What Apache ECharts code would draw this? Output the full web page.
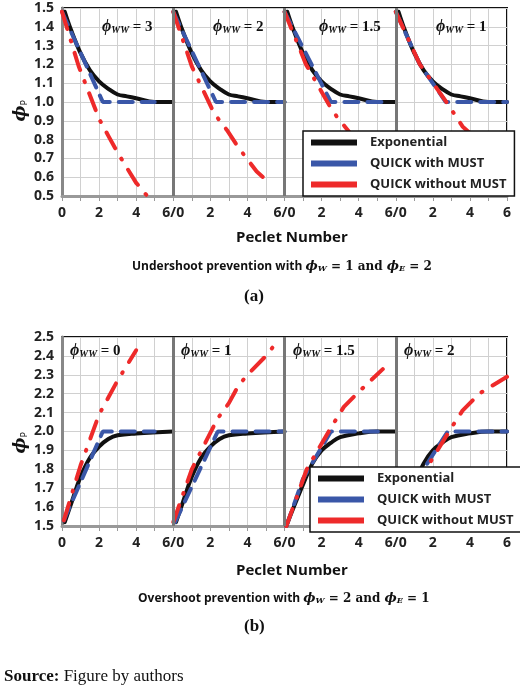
<!DOCTYPE html>
<html><head><meta charset="utf-8">
<script src="https://cdn.jsdelivr.net/npm/echarts@6/dist/echarts.min.js"></script>
<style>html,body{margin:0;padding:0;background:#fff}#c{width:520px;height:689px}</style>
</head><body><div id="c"></div>
<script>
// ---- data (local x per panel, 0..6) ----
const xTicks = [0,2,4,'6/0',2,4,'6/0',2,4,'6/0',2,4,6];
const topLabels = ['3','2','1.5','1'];
const botLabels = ['0','1','1.5','2'];
const topExp = [[0.15,1.48],[0.5,1.38],[1,1.26],[1.5,1.17],[2,1.11],[2.5,1.07],[3,1.04],[3.5,1.03],[4,1.02],[5,1.0],[6,1.0]];
const topMust = [
 [[0,1.48],[2.2,1.0],[5,1.0]],
 [[0,1.48],[2.3,1.0],[6,1.0]],
 [[0,1.48],[2.5,1.0],[5.3,1.0]],
 [[0,1.48],[1.3,1.2],[2.7,1.0],[6,1.0]]
];
const topNoMust = [
 [[0,1.48],[0.9,1.19],[2,0.91],[2.5,0.82],[3,0.73],[4,0.57],[4.6,0.5]],
 [[0,1.48],[1,1.19],[2.2,0.94],[2.9,0.85],[3.5,0.76],[4.5,0.63],[5.3,0.56]],
 [[0,1.48],[1.16,1.2],[2.6,0.95],[3.25,0.87],[3.9,0.79],[5.3,0.67]],
 [[0,1.48],[1.3,1.2],[2.8,0.99],[3.6,0.87],[4.5,0.79],[6,0.7]]
];
const botExpA = [[0.15,1.52],[0.5,1.62],[1,1.76],[1.5,1.86],[2,1.92],[2.5,1.96],[3,1.98],[4,1.99],[6,2.0]];
const botExpB = [[0.1,1.5],[0.5,1.6],[1,1.72],[1.5,1.83],[2,1.9],[2.5,1.94],[3,1.97],[4,1.99],[5,2.0],[6,2.0]];
const botMust = [
 [[0.1,1.53],[2.2,2.0],[5,2.0]],
 [[0.1,1.52],[2.4,2.0],[6,2.0]],
 [[0.1,1.5],[1,1.75],[2.5,2.0],[5.3,2.0]],
 [[0.1,1.5],[1.5,1.8],[2.8,2.0],[6,2.0]]
];
const botNoMust = [
 [[0.1,1.53],[1,1.82],[2,2.09],[2.5,2.18],[3,2.27],[4,2.43]],
 [[0,1.52],[1,1.8],[2.4,2.07],[3,2.15],[3.5,2.24],[4,2.3],[5,2.4],[5.4,2.45]],
 [[0.1,1.5],[1.2,1.8],[2.5,2.02],[3.2,2.13],[3.9,2.2],[5.3,2.33]],
 [[0.1,1.5],[1.5,1.78],[3,2.02],[3.6,2.11],[4.5,2.2],[6,2.29]]
];
// ---- build ----
const BLACK='#111', BLUE='#3a57a8', RED='#ee2a2a';
const shift=(arr,p)=>arr.map(d=>[d[0]+6*p,d[1]]);
const series=[];
function add(gi,name,data,color,type,smooth){
  series.push({name,type:'line',xAxisIndex:gi,yAxisIndex:gi,data,smooth,showSymbol:false,symbol:'none',
    lineStyle:{color,width:4,type,cap:'round'},itemStyle:{color},z:type==='solid'?2:3,clip:true});
}
for(let p=0;p<4;p++){
  add(0,'Exponential',shift(topExp,p),BLACK,'solid',0.4);
  add(0,'QUICK with MUST',shift(topMust[p],p),BLUE,[14,9],false);
  add(0,'QUICK without MUST',shift(topNoMust[p],p),RED,[18,12,1,12],false);
  add(1,'Exponential',shift(p<2?botExpA:botExpB,p),BLACK,'solid',0.4);
  add(1,'QUICK with MUST',shift(botMust[p],p),BLUE,[14,9],false);
  add(1,'QUICK without MUST',shift(botNoMust[p],p),RED,[18,12,1,12],false);
}
[0,1].forEach(gi=>series.push({type:'line',xAxisIndex:gi,yAxisIndex:gi,data:[],silent:true,
  markLine:{symbol:'none',silent:true,label:{show:false},lineStyle:{color:'#777',width:3,type:'solid'},
  data:[{xAxis:6},{xAxis:12},{xAxis:18}]},z:1}));
const xA=gi=>({type:'value',gridIndex:gi,min:0,max:24,interval:1,
  axisLine:{show:true,lineStyle:{color:'#999',width:3}},
  axisTick:{show:true,lineStyle:{color:'#999'}},
  splitLine:{show:true,lineStyle:{color:'#d0d0d0'}},
  axisLabel:{fontFamily:'Open Sans',fontWeight:'bold',fontSize:14,color:'#222',margin:10,
    formatter:v=>v%2?'':String(xTicks[v/2])}});
const yA=(gi,min,max)=>({type:'value',gridIndex:gi,min,max,interval:0.1,
  axisLine:{show:true,lineStyle:{color:'#888',width:3}},axisTick:{show:false},
  splitLine:{show:true,lineStyle:{color:'#d0d0d0'}},
  axisLabel:{fontFamily:'Open Sans',fontWeight:'bold',fontSize:14,color:'#222',margin:8,formatter:v=>v.toFixed(1)}});
const txt=(x,y,t,o={})=>({type:'text',left:x,top:y,style:Object.assign({text:t,fontFamily:'Open Sans',fontWeight:'bold',fontSize:13,fill:'#111'},o)});
const phiLab=(x,y,v)=>({type:'text',left:x,top:y,z:10,style:{text:'{a|ϕ}{s|WW}{b| = '+v+'}',
  rich:{a:{fontFamily:'Liberation Serif',fontStyle:'italic',fontWeight:'bold',fontSize:16,fill:'#111'},
        b:{fontFamily:'Liberation Serif',fontWeight:'bold',fontSize:15,fill:'#111'},
        s:{fontFamily:'Liberation Serif',fontStyle:'italic',fontWeight:'bold',fontSize:10,fill:'#111',padding:[6,0,0,0]}}}});
const graphic=[];
const px=[62,173,285,396];
topLabels.forEach((v,i)=>graphic.push(phiLab(px[i]+(i==2?34:40),19,v)));
botLabels.forEach((v,i)=>graphic.push(phiLab(px[i]+8,343,v)));
[[12,100],[12,432]].forEach(([x,y])=>graphic.push({type:'text',left:x,top:y,rotation:Math.PI/2,
  style:{text:'{a|ϕ}{s|P}',rich:{a:{fontFamily:'DejaVu Serif',fontStyle:'italic',fontWeight:'bold',fontSize:17,fill:'#111'},s:{fontSize:9,fontFamily:'DejaVu Sans',fill:'#111',padding:[8,0,0,0]}}}}));
graphic.push(txt(236,230,'Peclet Number',{fontSize:15}));
graphic.push(txt(236,563,'Peclet Number',{fontSize:15}));
const sub={n:{fontFamily:'DejaVu Serif',fontWeight:'bold',fontSize:12},b:{fontFamily:'DejaVu Serif',fontStyle:'italic',fontWeight:'bold',fontSize:13},s:{fontFamily:'DejaVu Serif',fontStyle:'italic',fontWeight:'bold',fontSize:8,padding:[5,0,0,0]}};
graphic.push({type:'text',left:132,top:260,style:{text:'Undershoot prevention with {b|ϕ}{s|W}{n| = 1 and }{b|ϕ}{s|E}{n| = 2}',fontFamily:'Open Sans',fontWeight:'bold',fontSize:12,fill:'#111',rich:sub}});
graphic.push({type:'text',left:138,top:592,style:{text:'Overshoot prevention with {b|ϕ}{s|W}{n| = 2 and }{b|ϕ}{s|E}{n| = 1}',fontFamily:'Open Sans',fontWeight:'bold',fontSize:12,fill:'#111',rich:sub}});
graphic.push(txt(244,288,'(a)',{fontFamily:'Liberation Serif',fontSize:17}));
graphic.push(txt(244,618,'(b)',{fontFamily:'Liberation Serif',fontSize:17}));
graphic.push({type:'text',left:4,top:668,style:{text:'{b|Source:} Figure by authors',fontFamily:'Liberation Serif',fontSize:17,fill:'#111',rich:{b:{fontFamily:'Liberation Serif',fontWeight:'bold',fontSize:17}}}});
const leg=(left,top)=>({orient:'vertical',left,top,itemWidth:46,itemHeight:6,itemGap:8,icon:'rect',
  data:['Exponential','QUICK with MUST','QUICK without MUST'],backgroundColor:'#fff',borderColor:'#111',borderWidth:1.5,
  padding:[5,8,5,8],textStyle:{fontFamily:'Open Sans',fontWeight:'bold',fontSize:13,color:'#222',padding:[0,0,0,8]},selectedMode:false,z:20});
const opt={animation:false,
  grid:[{left:62,right:13,top:8,height:188,show:true,borderColor:'#111',borderWidth:2},
        {left:62,right:13,top:337,height:189,show:true,borderColor:'#111',borderWidth:2}],
  xAxis:[xA(0),xA(1)],yAxis:[yA(0,0.5,1.5),yA(1,1.5,2.5)],
  legend:[leg(303,131),leg(310,467)],series,graphic};
echarts.init(document.getElementById('c')).setOption(opt);
</script></body></html>
